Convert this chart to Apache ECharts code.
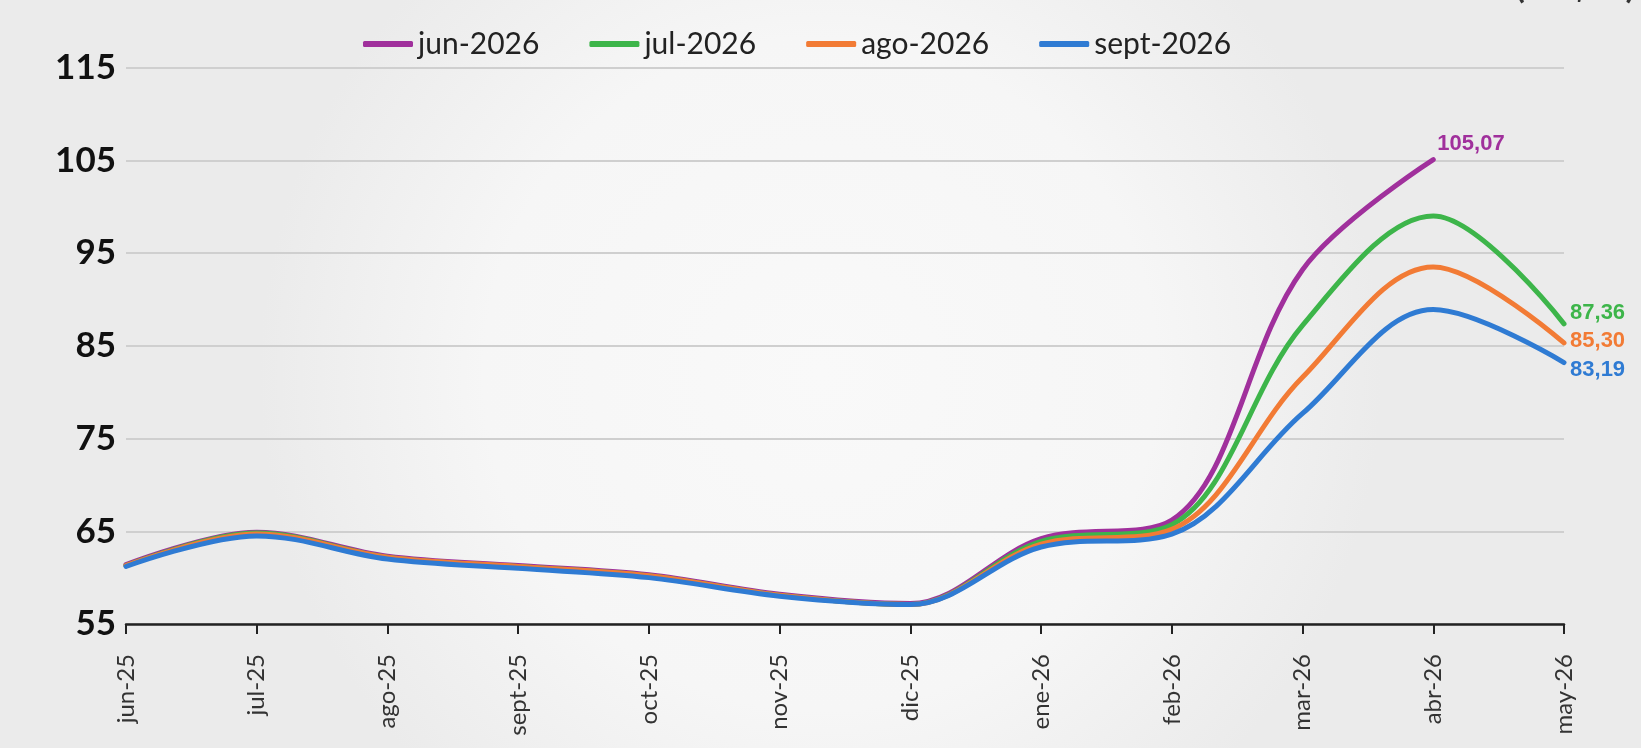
<!DOCTYPE html>
<html>
<head>
<meta charset="utf-8">
<script src="https://cdn.jsdelivr.net/npm/echarts@6/dist/echarts.min.js"></script>
<style>
html,body{margin:0;padding:0;width:1641px;height:748px;overflow:hidden;}
#chart{width:1641px;height:748px;}
</style>
</head>
<body>
<div id="chart"></div>
<script>
const categories = ['jun-25','jul-25','ago-25','sept-25','oct-25','nov-25','dic-25','ene-26','feb-26','mar-26','abr-26','may-26'];
const seriesNames = ['jun-2026','jul-2026','ago-2026','sept-2026'];
const jun2026 = [61.4, 64.9, 62.3, 61.3, 60.3, 58.2, 57.2, 64.2, 66.2, 93.2, 105.07, null];
const jul2026 = [61.3, 64.8, 62.2, 61.2, 60.2, 58.1, 57.1, 63.9, 65.7, 87.2, 99.0, 87.36];
const ago2026 = [61.3, 64.7, 62.2, 61.2, 60.2, 58.1, 57.1, 63.6, 65.2, 81.6, 93.5, 85.30];
const sept2026 = [61.2, 64.5, 62.0, 61.0, 60.0, 58.0, 57.1, 63.3, 64.7, 77.7, 88.9, 83.19];
const yTicks = {min: 55, max: 115, interval: 10};
const colors = ['#A0309C', '#3DB54A', '#F27B35', '#2F7BD3'];
const labelOffsets = [[-2,-16],[0,-11],[0,-2],[0,7]];

const allData = [jun2026, jul2026, ago2026, sept2026];
function lastIndex(arr){ for(let i=arr.length-1;i>=0;i--){ if(arr[i]!==null) return i; } return -1; }
function fmt(v){ return v.toFixed(2).replace('.', ','); }

const series = allData.map((d, i) => {
  const li = lastIndex(d);
  return {
    name: seriesNames[i],
    type: 'line',
    data: d,
    smooth: 0.35,
    symbol: 'circle',
    symbolSize: 0.1,
    showSymbol: true,
    showAllSymbol: true,
    lineStyle: {width: 5, color: colors[i], cap: 'round'},
    itemStyle: {color: colors[i]},
    label: {
      show: true,
      position: 'right',
      distance: 6,
      offset: labelOffsets[i],
      color: colors[i],
      fontFamily: 'Liberation Sans',
      fontWeight: 'bold',
      fontSize: 22,
      formatter: p => (p.dataIndex === li ? fmt(p.value) : '')
    },
    emphasis: {disabled: true},
    z: 2 + i
  };
});

const chart = echarts.init(document.getElementById('chart'), null, {renderer: 'canvas'});
chart.setOption({
  animation: false,
  backgroundColor: {
    type: 'radial', x: 0.5, y: 0.5, r: 0.75,
    colorStops: [{offset: 0, color: '#f9f9f9'}, {offset: 0.6, color: '#f6f6f6'}, {offset: 1, color: '#ebebeb'}]
  },
  color: colors,
  graphic: [{
    type: 'text', right: 6, top: -31,
    style: {text: '(US$/b)', fontFamily: 'Lato', fontWeight: 'bold', fontSize: 35, fill: '#333'}
  }],
  legend: {
    left: 358, top: 24,
    icon: 'roundRect',
    itemWidth: 50, itemHeight: 6, itemGap: 50,
    data: seriesNames,
    textStyle: {fontFamily: 'Lato', fontSize: 30, color: '#222'}
  },
  grid: {left: 126, right: 77, top: 67.5, bottom: 124, containLabel: false},
  xAxis: {
    type: 'category',
    data: categories,
    boundaryGap: false,
    axisLine: {lineStyle: {color: '#222', width: 2.5}},
    axisTick: {show: true, alignWithLabel: true, length: 10, lineStyle: {color: '#222', width: 2}},
    axisLabel: {rotate: 90, margin: 30, fontFamily: 'Lato', fontSize: 24, color: '#333', interval: 0},
    splitLine: {show: false}
  },
  yAxis: {
    type: 'value',
    min: yTicks.min, max: yTicks.max, interval: yTicks.interval,
    axisLine: {show: false},
    axisTick: {show: false},
    axisLabel: {margin: 10, fontFamily: 'Lato', fontWeight: 'bold', fontSize: 35, color: '#111'},
    splitLine: {lineStyle: {color: '#cfcfcf', width: 2}}
  },
  series: series
});
</script>
</body>
</html>
